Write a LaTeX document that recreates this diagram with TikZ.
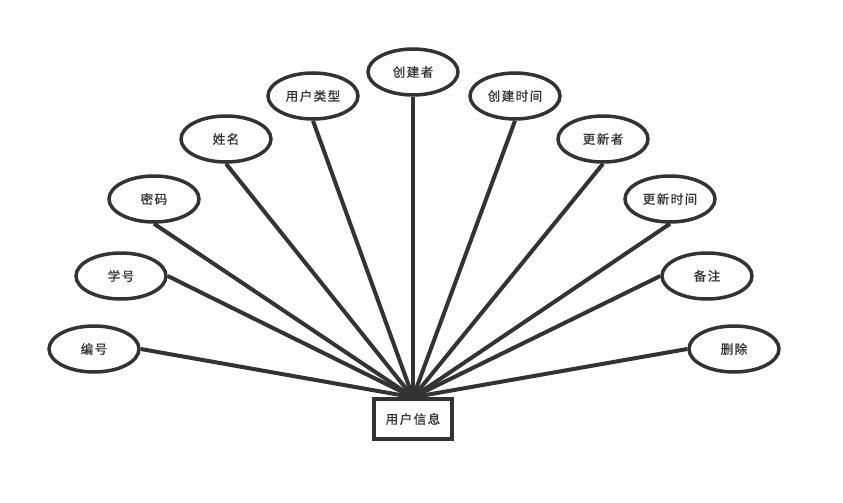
\documentclass[tikz,border=0pt]{standalone}
\usepackage{fontspec}
\newfontfamily\cjk{Noto Sans CJK SC}[LetterSpace=12, FakeBold=1]
\usetikzlibrary{positioning, shapes.geometric}
\definecolor{lineGray}{RGB}{51,51,51}
\tikzset{
	attr/.style={ellipse, draw=lineGray, line width=3.5pt, fill=white,
		minimum width=90pt, minimum height=46pt, inner sep=0pt,
		font=\cjk\fontsize{12.5}{14}\selectfont, text=lineGray},
	entity/.style={rectangle, draw=lineGray, line width=3.5pt, fill=white,
		minimum width=78pt, minimum height=40pt, inner sep=0pt,
		font=\cjk\fontsize{12.5}{14}\selectfont, text=lineGray},
	link/.style={draw=lineGray, line width=4pt}
}
\begin{document}
\begin{tikzpicture}[x=1pt, y=-1pt]
	\useasboundingbox (0,0) rectangle (843,503);
	% entity
	\node[entity] (user) at (413,419) {用户信息};
	% attributes
	\node[attr] (id) at (94,349) {编号};
	\node[attr] (sno) at (121,276) {学号};
	\node[attr] (pwd) at (154,199) {密码};
	\node[attr] (name) at (226,139) {姓名};
	\node[attr] (utype) at (313,96) {用户类型};
	\node[attr] (creator) at (413,72) {创建者};
	\node[attr] (ctime) at (515,96) {创建时间};
	\node[attr] (updater) at (603,139) {更新者};
	\node[attr] (utime) at (670,199) {更新时间};
	\node[attr] (note) at (707,276) {备注};
	\node[attr] (del) at (734,349) {删除};
	% links
	\foreach \a/\side in {id/east,sno/east,pwd/south,name/south,utype/south,creator/south,
		ctime/south,updater/south,utime/south,note/west,del/west}
		\draw[link] (\a.\side) -- (user.north);
\end{tikzpicture}
\end{document}
